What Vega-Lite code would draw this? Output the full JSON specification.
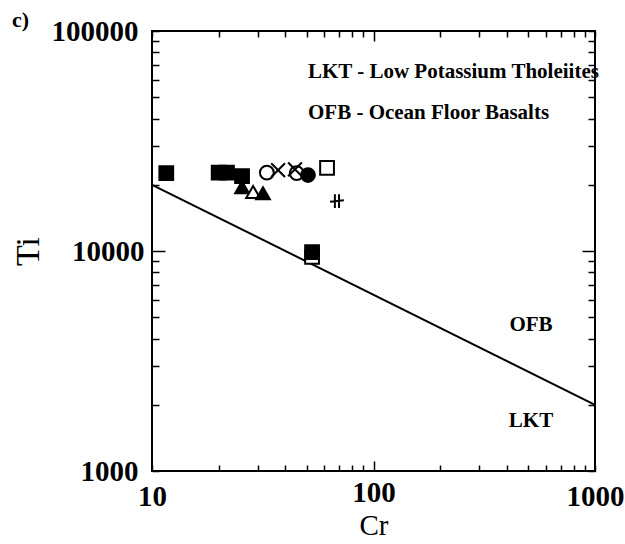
{
  "$schema": "https://vega.github.io/schema/vega-lite/v6.json",
  "width": 443,
  "height": 440,
  "autosize": "none",
  "padding": {"left": 152, "top": 31, "right": 30, "bottom": 73},
  "background": "white",
  "config": {"view": {"stroke": "black", "strokeWidth": 2}, "font": "Liberation Serif"},
  "title": {"text": "c)", "anchor": "start", "frame": "group", "dx": -140, "dy": 36, "offset": 4, "baseline": "alphabetic", "font": "Liberation Serif", "fontSize": 22, "fontWeight": "bold", "color": "black"},
  "datasets": {
    "line": [{"Cr": 10, "Ti": 20000}, {"Cr": 1000, "Ti": 2000}],
    "samples": [
      {"Cr": 11.6, "Ti": 22600, "symbol": "filled square"},
      {"Cr": 20.0, "Ti": 22700, "symbol": "filled square"},
      {"Cr": 21.8, "Ti": 22700, "symbol": "filled square"},
      {"Cr": 25.5, "Ti": 21900, "symbol": "filled square"},
      {"Cr": 25.5, "Ti": 19500, "symbol": "filled triangle"},
      {"Cr": 28.6, "Ti": 18550, "symbol": "open triangle"},
      {"Cr": 31.7, "Ti": 18300, "symbol": "filled triangle"},
      {"Cr": 33.0, "Ti": 22700, "symbol": "open circle"},
      {"Cr": 37.1, "Ti": 23300, "symbol": "cross"},
      {"Cr": 45.0, "Ti": 22600, "symbol": "open circle"},
      {"Cr": 44.2, "Ti": 23500, "symbol": "cross"},
      {"Cr": 50.6, "Ti": 22150, "symbol": "filled circle"},
      {"Cr": 61.7, "Ti": 23850, "symbol": "open square"},
      {"Cr": 68.4, "Ti": 16870, "symbol": "plus"},
      {"Cr": 52.8, "Ti": 9400, "symbol": "open square"},
      {"Cr": 52.8, "Ti": 9890, "symbol": "filled square"}
    ],
    "labels": [
      {"Cr": 50.6, "Ti": 65100, "text": "LKT - Low Potassium Tholeiites"},
      {"Cr": 50.6, "Ti": 42400, "text": "OFB - Ocean Floor Basalts"}
    ],
    "fields": [
      {"Cr": 514, "Ti": 4610, "text": "OFB"},
      {"Cr": 514, "Ti": 1690, "text": "LKT"}
    ]
  },
  "layer": [
    {
      "data": {"name": "line"},
      "mark": {"type": "line", "color": "black", "strokeWidth": 2},
      "encoding": {
        "x": {"field": "Cr", "type": "quantitative",
          "scale": {"type": "log", "domain": [10, 1000], "nice": false},
          "axis": {"orient": "bottom", "values": [10,20,30,40,50,60,70,80,90,100,200,300,400,500,600,700,800,900,1000],
            "labelExpr": "datum.value == 10 || datum.value == 100 || datum.value == 1000 ? datum.value + '' : ''",
            "domain": false, "grid": false, "tickColor": "black", "tickWidth": 1.5,
            "tickSize": {"condition": {"test": "datum.value == 100", "value": -10}, "value": -6},
            "labelFont": "Liberation Serif", "labelFontSize": 29, "labelFontWeight": "bold", "labelColor": "black",
            "labelPadding": 17, "labelFlush": false, "labelOverlap": false,
            "title": "Cr", "titleFont": "Liberation Serif", "titleFontSize": 29, "titleFontWeight": "normal", "titleColor": "black", "titlePadding": 0}},
        "y": {"field": "Ti", "type": "quantitative",
          "scale": {"type": "log", "domain": [1000, 100000], "nice": false},
          "axis": {"orient": "left", "values": [1000,2000,3000,4000,5000,6000,7000,8000,9000,10000,20000,30000,40000,50000,60000,70000,80000,90000,100000],
            "labelExpr": "datum.value == 1000 || datum.value == 10000 || datum.value == 100000 ? datum.value + '' : ''",
            "domain": false, "grid": false, "tickColor": "black", "tickWidth": 1.5,
            "tickSize": {"condition": {"test": "datum.value == 10000", "value": -13}, "value": -7},
            "labelFont": "Liberation Serif", "labelFontSize": 29, "labelFontWeight": "bold", "labelColor": "black",
            "labelPadding": 21, "labelFlush": false, "labelOverlap": false,
            "title": "Ti", "titleFont": "Liberation Serif", "titleFontSize": 34, "titleFontWeight": "normal", "titleColor": "black", "titlePadding": 6}}
      }
    },
    {
      "data": {"name": "samples"},
      "mark": {"type": "point", "size": 190, "stroke": "black", "strokeWidth": 2, "opacity": 1},
      "encoding": {
        "x": {"field": "Cr", "type": "quantitative",
          "axis": {"orient": "top", "values": [10,20,30,40,50,60,70,80,90,100,200,300,400,500,600,700,800,900,1000],
            "labels": false, "domain": false, "grid": false, "title": null, "tickColor": "black", "tickWidth": 1.5,
            "tickSize": {"condition": {"test": "datum.value == 100", "value": -10}, "value": -6}}},
        "y": {"field": "Ti", "type": "quantitative",
          "axis": {"orient": "right", "values": [1000,2000,3000,4000,5000,6000,7000,8000,9000,10000,20000,30000,40000,50000,60000,70000,80000,90000,100000],
            "labels": false, "domain": false, "grid": false, "title": null, "tickColor": "black", "tickWidth": 1.5,
            "tickSize": {"condition": {"test": "datum.value == 10000", "value": -13}, "value": -7}}},
        "shape": {"field": "symbol", "type": "nominal", "legend": null,
          "scale": {"domain": ["filled square", "filled triangle", "open triangle", "open circle", "cross", "filled circle", "open square", "plus"],
            "range": ["square", "triangle-up", "triangle-up", "circle", "M-1,-1L1,1M-1,1L1,-1", "circle", "square", "M-1,0.1L1,-0.1M-0.3,-1L-0.3,1M0.3,-1L0.3,1"]}},
        "fill": {"field": "symbol", "type": "nominal", "legend": null,
          "scale": {"domain": ["filled square", "filled triangle", "open triangle", "open circle", "cross", "filled circle", "open square", "plus"],
            "range": ["black", "black", "white", "white", "transparent", "black", "white", "transparent"]}}
      }
    },
    {
      "data": {"name": "labels"},
      "mark": {"type": "text", "align": "left", "baseline": "middle", "font": "Liberation Serif", "fontSize": 21, "fontWeight": "bold", "color": "black"},
      "encoding": {
        "x": {"field": "Cr", "type": "quantitative", "axis": null},
        "y": {"field": "Ti", "type": "quantitative", "axis": null},
        "text": {"field": "text"}
      }
    },
    {
      "data": {"name": "fields"},
      "mark": {"type": "text", "align": "center", "baseline": "middle", "font": "Liberation Serif", "fontSize": 21, "fontWeight": "bold", "color": "black"},
      "encoding": {
        "x": {"field": "Cr", "type": "quantitative", "axis": null},
        "y": {"field": "Ti", "type": "quantitative", "axis": null},
        "text": {"field": "text"}
      }
    }
  ],
  "resolve": {"axis": {"x": "independent", "y": "independent"}}
}
